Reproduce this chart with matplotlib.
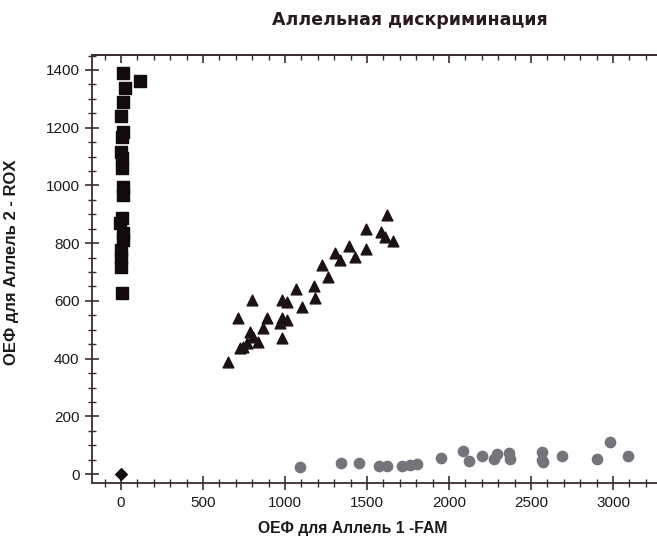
import matplotlib.pyplot as plt
from matplotlib.ticker import MultipleLocator

plt.rcParams['font.family'] = ['Liberation Sans', 'DejaVu Sans']

# homozygous allele 2 (squares)
sq_x = [12, 116, 25, 12, 0, 12, 6, 0, 6, 6, 12, 12, 6, -6, 12, 12, 0, 0, 0, 6]
sq_y = [1389, 1362, 1337, 1289, 1240, 1185, 1168, 1116, 1095, 1060, 994, 967,
        887, 870, 835, 811, 776, 748, 717, 627]

# heterozygous (triangles)
tr_x = [652, 713, 799, 744, 768, 787, 805, 835, 866, 890, 982, 1012, 982, 1012,
        970, 982, 1067, 1104, 1177, 1183, 1226, 1262, 1305, 1335, 1390, 1427,
        1494, 1494, 1622, 1585, 1610, 1659, 726]
tr_y = [388, 540, 603, 440, 454, 492, 475, 457, 506, 541, 603, 596, 541, 534,
        523, 471, 641, 579, 651, 610, 724, 683, 766, 742, 790, 752, 849, 780,
        897, 839, 821, 807, 437]

# homozygous allele 1 (circles)
ci_x = [1091, 1341, 1451, 1573, 1622, 1713, 1762, 1805, 1951, 2085, 2122, 2201,
        2274, 2293, 2366, 2372, 2567, 2573, 2567, 2689, 2902, 2982, 3091]
ci_y = [24, 37, 37, 29, 29, 29, 32, 35, 55, 80, 45, 62, 52, 69, 73, 52, 76, 42,
        48, 62, 52, 111, 62]

# no template control
ntc_x = [0]
ntc_y = [0]

axis_col = '#3d2b35'

fig = plt.figure(figsize=(6.57, 5.44), dpi=100)
ax = fig.add_axes([0.140, 0.112, 0.860, 0.787])

ax.scatter(sq_x, sq_y, marker='s', s=65, color='#120a0c', zorder=3)
ax.scatter(tr_x, tr_y, marker='^', s=60, color='#1c1216', zorder=3)
ax.scatter(ci_x, ci_y, marker='o', s=55, color='#77737a', zorder=3)
ax.scatter(ntc_x, ntc_y, marker='D', s=35, color='#120a0c', zorder=3)

ax.set_xlim(-177, 3268)
ax.set_ylim(-31, 1452)

ax.xaxis.set_major_locator(MultipleLocator(500))
ax.xaxis.set_minor_locator(MultipleLocator(100))
ax.yaxis.set_major_locator(MultipleLocator(200))
ax.yaxis.set_minor_locator(MultipleLocator(50))

ax.spines['right'].set_visible(False)
for s in ['left', 'bottom', 'top']:
    ax.spines[s].set_color(axis_col)
    ax.spines[s].set_linewidth(1.3)

ax.tick_params(axis='both', which='major', direction='inout', length=10, width=1.2,
               color=axis_col, labelsize=11, labelcolor='#1a1a1a', pad=4)
ax.tick_params(axis='both', which='minor', direction='inout', length=6, width=1.0,
               color=axis_col)

# top axis: ticks pointing inward only
top = ax.secondary_xaxis('top')
top.xaxis.set_major_locator(MultipleLocator(500))
top.xaxis.set_minor_locator(MultipleLocator(100))
top.tick_params(which='major', direction='in', length=6, width=1.2, color=axis_col,
                labeltop=False)
top.tick_params(which='minor', direction='in', length=3.5, width=1.0, color=axis_col)
top.spines['top'].set_color(axis_col)
top.spines['top'].set_linewidth(1.3)

ax.set_xlabel('ОЕФ для Аллель 1 -FAM', fontsize=11.3, fontweight='bold',
              color='#1a1a1a')
ax.xaxis.set_label_coords(0.462, -0.088)
ax.set_ylabel('ОЕФ для Аллель 2 - ROX', fontsize=12, fontweight='bold',
              color='#1a1a1a')
ax.yaxis.set_label_coords(-0.130, 0.516)

fig.text(0.624, 0.963, 'Аллельная дискриминация', ha='center', va='center',
         fontsize=12.5, fontweight='bold', color='#2a1a20', family='DejaVu Sans')

plt.savefig('out.png', dpi=100)
